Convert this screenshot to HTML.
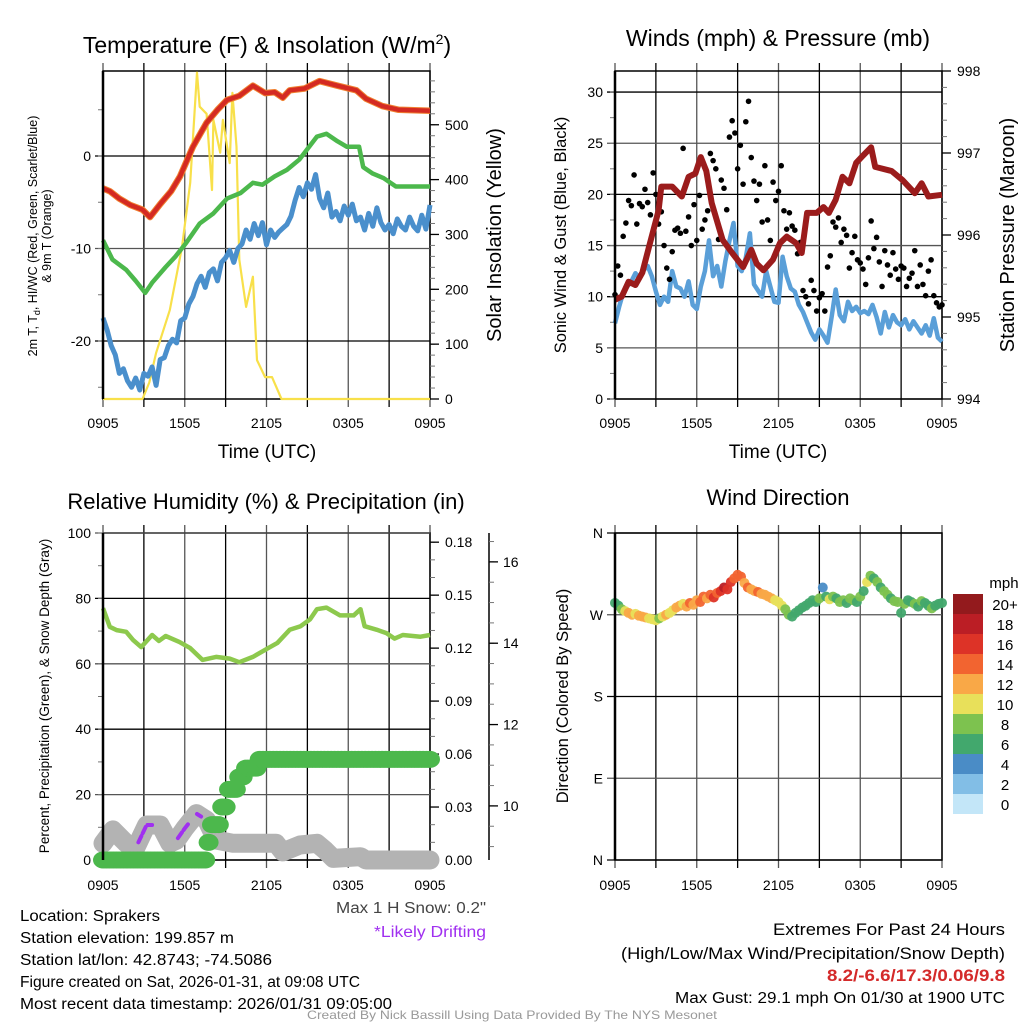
<!DOCTYPE html>
<html><head><meta charset="utf-8"><title>Mesonet Meteogram</title>
<style>
html,body{margin:0;padding:0;background:#fff;}
svg{display:block;font-family:"Liberation Sans",sans-serif;}
</style></head>
<body>
<svg id="chart" width="1024" height="1024" viewBox="0 0 1024 1024" xmlns="http://www.w3.org/2000/svg"></svg>
<script>
// ---------- DATA ----------
const redT = [0,0.5,1.2,2.0,2.9,3.45,4.2,5.0,5.65,6.6,7.6,8.4,9.1,10.0,11.0,11.9,12.6,13.2,13.7,14.8,15.9,17.2,18.6,19.3,20.5,21.7,24];
const redV = [-3.5,-3.8,-4.6,-5.3,-5.8,-6.6,-5.2,-3.8,-2.2,1.0,3.6,5.0,6.05,6.5,7.6,6.8,6.9,6.3,7.1,7.3,8.1,7.6,7.1,6.2,5.4,5.0,4.9];
const greenT = [0,0.7,1.7,2.4,3.1,3.6,4.6,5.3,6.1,7.1,8.1,9.1,10.1,11.0,11.7,12.6,13.5,14.4,15.7,16.4,17.2,17.9,18.8,19.1,19.8,20.6,21.5,24];
const greenV = [-9.1,-11.2,-12.3,-13.5,-14.8,-13.7,-12.0,-10.9,-9.4,-7.3,-6.2,-4.6,-4.0,-2.9,-3.1,-2.2,-1.5,-0.4,2.1,2.4,1.6,1.0,1.0,-1.2,-1.9,-2.4,-3.3,-3.3];
const blueStep = 0.3;
const blueV = [-17.5,-18.8,-20.5,-21.5,-23.5,-23.0,-24.3,-25.0,-24.0,-25.3,-23.5,-23.8,-22.8,-24.8,-22.0,-21.8,-20.5,-19.8,-20.2,-17.8,-17.5,-16.0,-15.2,-13.8,-13.0,-14.2,-12.6,-12.2,-13.5,-11.5,-11.0,-10.2,-11.5,-10.0,-9.5,-8.0,-9.0,-7.3,-8.6,-7.2,-9.6,-8.0,-8.8,-8.2,-7.8,-7.4,-6.5,-4.8,-3.4,-4.4,-2.9,-3.6,-2.0,-4.6,-5.6,-4.0,-6.6,-6.0,-7.0,-5.4,-6.4,-5.2,-7.0,-6.6,-8.0,-6.2,-7.6,-5.6,-7.2,-8.0,-7.4,-8.4,-6.8,-7.6,-8.0,-6.6,-7.6,-8.1,-6.4,-7.9,-5.3];
const solarT = [0,2.9,3.4,3.9,4.9,5.8,6.4,6.9,7.1,7.6,8.0,8.1,8.6,8.8,9.3,9.5,9.8,10.0,10.5,11.0,11.3,11.9,12.4,13.1,24];
const solarV = [0,0,30,84,162,277,394,595,533,520,381,509,449,509,430,558,460,254,168,223,71,40,40,0,0];
const tempTicks = [0,-10,-20];
const solarTicks = [0,100,200,300,400,500];
const timeLabels = ["0905","1505","2105","0305","0905"];

const windStep = 0.3;
const windV = [7.4,9.0,10.4,11.0,11.5,12.3,11.8,12.6,13.0,12.0,10.5,9.2,10.0,9.5,12.5,11.0,10.8,10.0,11.5,9.2,8.8,11.0,12.5,15.5,12.0,13.0,11.0,13.5,15.5,17.2,13.0,12.5,13.8,16.2,11.2,10.6,10.0,12.5,11.0,9.5,9.4,13.9,12.0,10.8,10.5,9.2,8.5,7.5,6.5,5.8,6.8,6.2,5.5,8.0,10.7,8.2,7.6,9.5,8.6,9.0,8.4,8.6,8.3,9.2,8.0,6.4,8.5,7.0,8.2,7.5,7.2,7.8,6.8,7.6,7.0,6.4,7.2,6.2,7.9,6.0,5.6];
const gustStep = 0.2;
const gustV = [10.2,13.0,12.1,15.9,17.2, 19.4,18.9,21.9,17.1,19.1, 18.8,20.5,19.2,18.0,22.1, 20.0,17.1,18.3,15.0,12.8, 11.7,14.4,16.5,16.7,16.2, 24.5,16.4,17.8,15.0,19.0, 15.5,19.9,16.6,17.5,18.4, 24.0,23.3,22.5,15.6,21.4, 20.6,18.5,25.6,27.2,26.0, 22.5,24.8,21.0,27.1,29.1, 23.6,21.3,19.4,21.0,17.3, 22.8,17.5,15.5,21.2,19.4, 20.3,22.8,18.4,16.6,18.2, 16.9,16.5,14.2,15.3,10.6, 10.0,9.3,11.6,10.6,8.6, 9.9,10.3,8.6,12.9,14.0, 17.3,16.8,17.7,15.3,16.6, 16.0,12.8,14.3,15.9,13.6, 13.3,12.7,11.2,13.8,17.4, 14.7,15.8,13.4,11.0,14.5, 13.1,12.1,14.3,12.7,11.7, 13.0,12.8,11.0,11.8,12.3, 14.5,11.0,13.1,11.2,10.1, 12.5,13.6,10.1,9.4,9.0, 9.2];
const presT = [0,0.5,1.0,1.5,2.0,2.5,3.2,3.4,4.2,4.9,5.4,5.9,6.3,6.7,7.1,7.9,8.6,9.4,10.0,10.4,10.9,11.6,12.1,12.6,13.3,13.7,14.1,14.8,15.3,15.7,16.2,16.7,17.2,17.7,18.1,18.8,19.1,20.3,21.1,22.0,22.5,23.0,24];
const presV = [995.21,995.25,995.43,995.39,995.54,995.86,996.3,996.59,996.59,996.47,996.71,996.75,996.95,996.78,996.39,995.94,995.78,995.61,995.82,995.65,995.57,995.70,995.90,995.98,995.9,995.78,996.27,996.27,996.34,996.27,996.43,996.71,996.63,996.88,996.95,997.07,996.83,996.78,996.67,996.51,996.63,996.47,996.49];
const windTicks = [0,5,10,15,20,25,30];
const presTicks = [994,995,996,997,998];

const rhT = [0,0.5,1.0,1.7,2.2,2.8,3.6,4.1,4.6,5.6,6.4,7.3,8.3,9.3,10.0,11.0,12.0,12.8,13.7,14.5,15.2,15.7,16.4,17.4,18.4,18.9,19.2,20.1,20.8,21.4,22.0,23.3,24];
const rhV = [77,71.3,70.3,69.8,67.3,65.1,68.8,67,68.5,66.7,64.8,61.2,62.1,61.6,60.5,62.1,64.5,66.4,70.4,71.5,73.6,76.7,77.2,74.8,74.8,76.7,71.5,70.4,69.4,67.7,68.8,68.3,68.8];
const precipStep = 0.25;
const precipV = [0,0,0,0,0,0,0,0,0,0,0,0,0,0,0,0,0,0,0,0,0,0,0,0,0,0,0,0,0,0,0,
  0.01,0.02,0.02,0.02,0.03,0.03,0.04,0.04,0.04,0.047,0.047,0.052,0.052,0.052,0.052,
  0.057,0.057,0.057,0.057,0.057,0.057,0.057,0.057,0.057,0.057,0.057,0.057,0.057,0.057,0.057,0.057,0.057,0.057,0.057,0.057,0.057,0.057,0.057,0.057,0.057,0.057,0.057,0.057,0.057,0.057,0.057,0.057,0.057,0.057,0.057,0.057,0.057,0.057,0.057,0.057,0.057,0.057,0.057,0.057,0.057,0.057,0.057,0.057,0.057,0.057,0.057];
const snowT = [0,0.73,1.7,2.45,3.2,4.2,4.9,5.4,6.0,6.86,7.6,8.3,9.55,12.0,12.7,13.2,14.45,15.7,16.3,16.9,18.9,19.3,24];
const snowV = [9.08,9.41,9.08,9.0,9.53,9.53,9.08,9.16,9.45,9.81,9.65,9.16,9.08,9.08,9.08,8.87,9.04,9.08,8.91,8.71,8.75,8.67,8.67];
const driftStart = [2.6,5.5,6.9];
const driftEnd = [3.6,6.3,7.2];
const rhTicks = [0,20,40,60,80,100];
const precipTicks = [0,0.03,0.06,0.09,0.12,0.15,0.18];
const precipLabels = ["0.00","0.03","0.06","0.09","0.12","0.15","0.18"];
const snowTicks = [10,12,14,16];

const dirStep = 0.25;
const dirV = [283,280,276,274, 272,270,271,269, 268,267,266,265, 264,266,268,270, 272,275,278,280, 282,279,283,281, 286,284,290,288, 292,289,294,296, 300,298,306,310, 314,312,305,300, 298,296,295,293, 292,290,288,286, 284,280,276,270, 268,272,275,278, 280,283,286,284, 288,300,290,287, 290,288,284,286, 283,288,286,284, 290,296,306,313, 310,306,300,296, 292,288,285,284, 272,282,286,284, 282,279,285,283, 280,277,280,282, 283];
const dirSpd = [6,7,9,11, 12,12,11,12, 12,13,11,10, 10,9,11,12, 10,11,13,12, 11,13,14,12, 12,14,15,13, 14,16,15,17, 18,17,16,15, 15,14,13,14, 13,12,15,13, 12,13,12,11, 11,10,9,8, 7,6,6,7, 6,7,7,6, 8,4,7,11, 8,7,9,8, 7,8,8,7, 8,7,10,8, 7,8,7,8, 8,7,9,8, 7,8,7,6, 8,7,8,7, 7,8,7,6, 6];
const dirTicks = [0,90,180,270,360];
const dirLabels = ["N","E","S","W","N"];
const speedColors = ["#c3e6f8","#82bee6","#4a8cc6","#42a86d","#7dc24f","#e8e05a","#f9a847","#f26430","#dd3327","#bb1e25","#931a1d"];
const speedLabels = ["0","2","4","6","8","10","12","14","16","18","20+"];

// ---------- RENDER ----------
const NS = "http://www.w3.org/2000/svg";
const svg = document.getElementById("chart");
function mk(tag, attrs, parent){
  const el = document.createElementNS(NS, tag);
  for (const k in attrs) el.setAttribute(k, attrs[k]);
  (parent||svg).appendChild(el);
  return el;
}
function txt(s, x, y, size, anchor, parent, extra){
  const t = mk("text", Object.assign({x:x, y:y, "font-size":size, "text-anchor":anchor||"middle", fill:"#000"}, extra||{}), parent);
  t.textContent = s;
  return t;
}
function panel(x0,x1,y0,y1){ return {x0,x1,y0,y1}; }
function X(p,h){ return p.x0 + h/24*(p.x1-p.x0); }
function Y(p,v,mn,mx){ return p.y1 - (v-mn)/(mx-mn)*(p.y1-p.y0); }

function frame(p, name, labelsY){
  const g = mk("g", {});
  
  
  for (let i=0;i<=8;i++){
    const x = X(p, i*3);
    const gl = mk("line",{x1:x,x2:x,y1:p.y0-8,y2:p.y1+8,stroke:(i%2? "#000":"#555"),"stroke-width":1.3},g);
    
    
    if (i%2===0){
      const t = txt(timeLabels[i/2], x, labelsY, 14, "middle", g);
      
      
    }
  }
  mk("rect",{x:p.x0,y:p.y0,width:p.x1-p.x0,height:p.y1-p.y0,fill:"none",stroke:"#000","stroke-width":1.5},g);
  return g;
}
function hgrid(p, vals, mn, mx, labels, g){
  vals.forEach((v,i)=>{
    const y = Y(p,v,mn,mx);
    mk("line",{x1:p.x0-8,x2:p.x1,y1:y,y2:y,stroke:(i%2?"#555":"#000"),"stroke-width":1.3},g);
    const t = txt(labels? labels[i] : String(v), p.x0-12, y+5, 14, "end", g);
    
    
  });
}
function rticks(p, vals, mn, mx, labels, minorStep, g){
  for (let v=mn; v<=mx+1e-9; v+=minorStep){
    const y=Y(p,v,mn,mx);
    mk("line",{x1:p.x1,x2:p.x1+5,y1:y,y2:y,stroke:"#777","stroke-width":1},g);
  }
  vals.forEach((v,i)=>{
    const y=Y(p,v,mn,mx);
    mk("line",{x1:p.x1,x2:p.x1+9,y1:y,y2:y,stroke:"#000","stroke-width":1.3},g);
    const t = txt(labels?labels[i]:String(v), p.x1+15, y+5, 14, "start", g);
    
    
  });
}
function lminor(p, mn, mx, step, g){
  for (let v=Math.ceil(mn/step)*step; v<=mx; v+=step){
    const y=Y(p,v,mn,mx);
    mk("line",{x1:p.x0-5,x2:p.x0,y1:y,y2:y,stroke:"#777","stroke-width":1},g);
  }
}
function pathFrom(p, ts, vs, mn, mx){
  return ts.map((t,i)=>(i?"L":"M")+X(p,t).toFixed(1)+","+Y(p,vs[i],mn,mx).toFixed(1)).join("");
}
function seq(step, n){ const a=[]; for(let i=0;i<n;i++) a.push(i*step); return a; }
function rot(s, x, y, size, parent){
  const t = mk("text",{x:0,y:0,"font-size":size,"text-anchor":"middle",fill:"#000",transform:"translate("+x+","+y+") rotate(-90)"},parent);
  t.textContent = s; return t;
}
let e;

// ===== Panel 1 =====
const p1 = panel(103,430,71,399);
const T_MIN=-26.27, T_MAX=9.19, S_MIN=0, S_MAX=598;
const g1 = frame(p1,"temperature",428);
hgrid(p1,tempTicks,T_MIN,T_MAX,null,g1);
lminor(p1,T_MIN,T_MAX,5,g1);
rticks(p1,solarTicks,S_MIN,S_MAX,null,20,g1);
e = mk("path",{d:pathFrom(p1,solarT,solarV,S_MIN,S_MAX),fill:"none",stroke:"#f8e04a","stroke-width":2.2,"stroke-linejoin":"round"});
 
e = mk("path",{d:pathFrom(p1,seq(blueStep,blueV.length),blueV,T_MIN,T_MAX),fill:"none",stroke:"#4a8fcc","stroke-width":5,"stroke-linejoin":"round"});
 
e = mk("path",{d:pathFrom(p1,greenT,greenV,T_MIN,T_MAX),fill:"none",stroke:"#4cb84c","stroke-width":4.5,"stroke-linejoin":"round"});
 
e = mk("path",{d:pathFrom(p1,redT,redV,T_MIN,T_MAX),fill:"none",stroke:"#f08030","stroke-width":6.5,"stroke-linejoin":"round"});
 
e = mk("path",{d:pathFrom(p1,redT,redV,T_MIN,T_MAX),fill:"none",stroke:"#d42a22","stroke-width":4.5,"stroke-linejoin":"round"});
 
mk("line",{x1:p1.x0,x2:p1.x0,y1:p1.y0,y2:p1.y1,stroke:"#000","stroke-width":2.5});
e = mk("text",{x:267,y:53,"font-size":23,"text-anchor":"middle",fill:"#000"});
e.appendChild(document.createTextNode("Temperature (F) & Insolation (W/m"));
let ts1 = mk("tspan",{dy:-9,"font-size":14},e); ts1.textContent="2";
let ts2 = mk("tspan",{dy:9},e); ts2.textContent=")";
 
e = txt("Time (UTC)",267,458,19,"middle");  
e = mk("text",{x:0,y:0,"font-size":12.5,"text-anchor":"middle",fill:"#000",transform:"translate(37,236) rotate(-90)"});
e.appendChild(document.createTextNode("2m T, T"));
let ts3 = mk("tspan",{dy:3,"font-size":9},e); ts3.textContent="d";
let ts4 = mk("tspan",{dy:-3},e); ts4.textContent=", HI/WC (Red, Green, Scarlet/Blue)";
 
e = rot("& 9m T (Orange)",51,236,12.5);  
e = rot("Solar Insolation (Yellow)",501,235,20);  

// ===== Panel 2 =====
const p2 = panel(615,942,71,399);
const W_MIN=0,W_MAX=32.06,P_MIN=994,P_MAX=998;
const g2 = frame(p2,"winds",428);
hgrid(p2,windTicks,W_MIN,W_MAX,null,g2);
lminor(p2,W_MIN,W_MAX,2.5,g2);
rticks(p2,presTicks,P_MIN,P_MAX,null,0.2,g2);
e = mk("path",{d:pathFrom(p2,seq(windStep,windV.length),windV,W_MIN,W_MAX),fill:"none",stroke:"#5a9fd8","stroke-width":4.5,"stroke-linejoin":"round"});
 
const gg = mk("g",{});  
gustV.forEach((v,i)=>{
  const c = mk("circle",{cx:X(p2,i*gustStep),cy:Y(p2,v,W_MIN,W_MAX),r:2.8,fill:"#000"},gg);
  
  
});
e = mk("path",{d:pathFrom(p2,presT,presV,P_MIN,P_MAX),fill:"none",stroke:"#9b1c1c","stroke-width":6,"stroke-linejoin":"round"});
 
mk("line",{x1:p2.x0,x2:p2.x0,y1:p2.y0,y2:p2.y1,stroke:"#000","stroke-width":2.5});
e = txt("Winds (mph) & Pressure (mb)",778,46,23,"middle");  
e = txt("Time (UTC)",778,458,19,"middle");  
e = rot("Sonic Wind & Gust (Blue, Black)",566,235,16.5);  
e = rot("Station Pressure (Maroon)",1014,235,20);  

// ===== Panel 3 =====
const p3 = panel(103,430,533,860);
const R_MIN=0,R_MAX=100,PR_MIN=0,PR_MAX=0.1852,SN_MIN=8.67,SN_MAX=16.71;
const g3 = frame(p3,"humidity",890);
hgrid(p3,rhTicks,R_MIN,R_MAX,null,g3);
lminor(p3,R_MIN,R_MAX,10,g3);
rticks(p3,precipTicks,PR_MIN,PR_MAX,precipLabels,0.01,g3);
const sa = mk("g",{});  
mk("line",{x1:489,x2:489,y1:p3.y0,y2:p3.y1,stroke:"#000","stroke-width":1.5},sa);
for (let v=9; v<=16.5; v+=0.5){ const y=Y(p3,v,SN_MIN,SN_MAX); mk("line",{x1:489,x2:494,y1:y,y2:y,stroke:"#777","stroke-width":1},sa); }
snowTicks.forEach(v=>{ const y=Y(p3,v,SN_MIN,SN_MAX); mk("line",{x1:489,x2:498,y1:y,y2:y,stroke:"#000","stroke-width":1.3},sa); txt(String(v),503,y+5,14,"start",sa); });
e = mk("path",{d:pathFrom(p3,snowT,snowV,SN_MIN,SN_MAX),fill:"none",stroke:"#b3b3b3","stroke-width":19,"stroke-linejoin":"round","stroke-linecap":"round"});
 
driftStart.forEach((s,i)=>{
  const tt=[s];
  for (let k=0;k<snowT.length;k++) if (snowT[k]>s && snowT[k]<driftEnd[i]) tt.push(snowT[k]);
  tt.push(driftEnd[i]);
  const vs = tt.map(t=>{ let k=1; while(k<snowT.length-1 && snowT[k]<t) k++; const a=snowT[k-1],b=snowT[k]; const f=Math.min(1,Math.max(0,(t-a)/(b-a))); return snowV[k-1]+(snowV[k]-snowV[k-1])*f; });
  const d = mk("path",{d:pathFrom(p3,tt,vs,SN_MIN,SN_MAX),fill:"none",stroke:"#a030f0","stroke-width":4,"stroke-dasharray":"7 3","stroke-linecap":"round"});
   
});
const pg = mk("g",{});  
precipV.forEach((v,i)=>{
  const c = mk("ellipse",{cx:X(p3,i*precipStep),cy:Y(p3,v,PR_MIN,PR_MAX),rx:10,ry:8.5,fill:"#4cb84c"},pg);
  
  
});
e = mk("path",{d:pathFrom(p3,rhT,rhV,R_MIN,R_MAX),fill:"none",stroke:"#8dc94d","stroke-width":4.5,"stroke-linejoin":"round"});
 
mk("line",{x1:p3.x0,x2:p3.x0,y1:p3.y0,y2:p3.y1,stroke:"#000","stroke-width":2.5});
e = txt("Relative Humidity (%) & Precipitation (in)",266,509,22,"middle");  
e = rot("Percent, Precipitation (Green), & Snow Depth (Gray)",49,696,13.5);  

// ===== Panel 4 =====
const p4 = panel(615,942,533,860);
const D_MIN=0,D_MAX=360;
const g4 = frame(p4,"wind-direction",890);
hgrid(p4,dirTicks,D_MIN,D_MAX,dirLabels,g4);
const dg = mk("g",{});  
dirV.forEach((v,i)=>{
  const bin = Math.min(10, Math.max(0, Math.floor(dirSpd[i]/2)));
  const c = mk("circle",{cx:X(p4,i*dirStep),cy:Y(p4,v,D_MIN,D_MAX),r:5,fill:speedColors[bin],opacity:0.95},dg);
  
  
});
mk("line",{x1:p4.x0,x2:p4.x0,y1:p4.y0,y2:p4.y1,stroke:"#000","stroke-width":2.5});
e = txt("Wind Direction",778,505,22,"middle");  
e = rot("Direction (Colored By Speed)",568,696,16.5);  
const cb = mk("g",{});  
txt("mph",1004,588,15,"middle",cb);
for (let i=10;i>=0;i--){
  const y = 594 + (10-i)*20;
  const r = mk("rect",{x:953,y:y,width:30,height:20,fill:speedColors[i]},cb);
  
  
  txt(speedLabels[i],1005,y+16,15,"middle",cb);
}

// ===== Footer =====
const ft = mk("g",{});  
const infoLines = ["Location: Sprakers","Station elevation: 199.857 m","Station lat/lon: 42.8743; -74.5086","Figure created on Sat, 2026-01-31, at 09:08 UTC","Most recent data timestamp: 2026/01/31 09:05:00"];
const infoLens = [140,214,252,340,372];
infoLines.forEach((s,i)=>{ txt(s,20,921+i*22,15.5,"start",ft,{textLength:infoLens[i],lengthAdjust:"spacingAndGlyphs"}); });
e = txt('Max 1 H Snow: 0.2"',486,913,15.5,"end",null,{fill:"#444",textLength:150,lengthAdjust:"spacingAndGlyphs"});  
e = txt("*Likely Drifting",486,937,15.5,"end",null,{fill:"#a030f0",textLength:112,lengthAdjust:"spacingAndGlyphs"});  
const ex = mk("g",{});  
txt("Extremes For Past 24 Hours",1005,935,16.5,"end",ex,{textLength:232,lengthAdjust:"spacingAndGlyphs"});
txt("(High/Low/Max Wind/Precipitation/Snow Depth)",1005,959,16.5,"end",ex,{textLength:384,lengthAdjust:"spacingAndGlyphs"});
txt("8.2/-6.6/17.3/0.06/9.8",1005,981,16.5,"end",ex,{fill:"#d42a2a","font-weight":"bold",textLength:178,lengthAdjust:"spacingAndGlyphs"});
txt("Max Gust: 29.1 mph On 01/30 at 1900 UTC",1005,1003,15.5,"end",ex,{textLength:330,lengthAdjust:"spacingAndGlyphs"});
e = txt("Created By Nick Bassill Using Data Provided By The NYS Mesonet",512,1019,12,"middle",null,{fill:"#999",textLength:410,lengthAdjust:"spacingAndGlyphs"});
 
</script>
</body></html>
